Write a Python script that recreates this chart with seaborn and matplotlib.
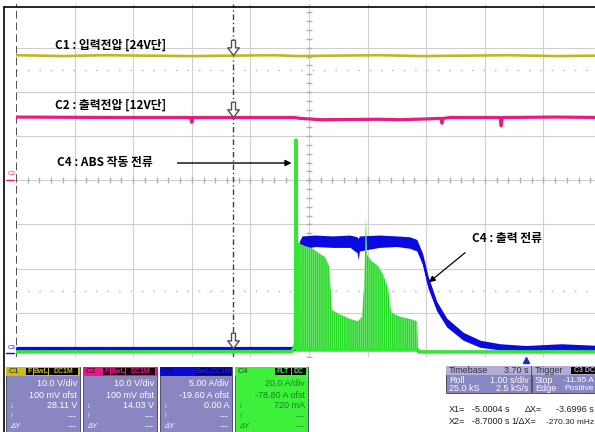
import numpy as np
import pandas as pd
import matplotlib
matplotlib.use("Agg")
import matplotlib.pyplot as plt
import seaborn as sns
from matplotlib.patches import Rectangle
from matplotlib.lines import Line2D

# ---- values (time in s, roll mode 1.00 s/div) ----
t_left, t_right = -8.7, 1.3
x1_cursor, x2_cursor = -5.0004, -8.7

# C1 : input voltage (V)
c1_t = [-8.7, -7.9, -7.2, -6.5, -5.7, -5.0, -4.3, -3.9, -3.3, -2.5, -1.8, -1.0, -0.3, 0.5, 1.3]
c1_v = [28.2, 28.0, 28.2, 28.1, 28.0, 28.1, 28.2, 28.0, 28.1, 28.2, 28.0, 28.1, 28.2, 28.0, 28.1]

# C2 : output voltage (V)
c2_t = [-8.7, -7.0, -5.72, -5.70, -5.68, -4.5, -3.95, -3.85, -3.5, -2.5, -2.15, -1.64,
        -1.45, -1.43, -1.41, -1.29, -0.44, -0.42, -0.40, 0.5, 1.3]
c2_v = [14.2, 14.1, 14.1, 13.0, 14.1, 14.1, 14.1, 13.9, 13.6, 13.7, 13.6, 13.8,
        13.9, 12.8, 13.9, 14.1, 14.1, 12.2, 14.1, 14.2, 14.1]

# C3 : output current (A), noise band low / high
c3_t = [-8.7, -3.95, -3.925, -3.905, -3.87, -3.82, -3.6, -3.3, -3.0, -2.88, -2.86, -2.84,
        -2.5, -2.2, -1.98, -1.86, -1.76, -1.67, -1.52, -1.35, -1.07, -0.78, -0.44, 0.0, 0.6, 1.3]
c3_hi = [0.8, 0.8, 2.5, 9.0, 12.6, 13.3, 13.4, 13.3, 13.4, 13.2, 13.0, 13.3,
         13.4, 13.3, 13.2, 12.9, 11.3, 8.8, 5.9, 4.0, 2.4, 1.5, 1.1, 0.9, 1.1, 0.9]
c3_lo = [0.3, 0.3, 0.4, 3.0, 9.5, 11.8, 12.1, 12.0, 12.0, 11.4, 10.6, 11.6,
         12.0, 12.1, 11.9, 11.6, 10.0, 7.4, 4.8, 3.0, 1.5, 0.7, 0.4, 0.3, 0.4, 0.3]

# C4 : ABS current (A), base trace with first spike
c4_t = [-8.7, -4.0, -3.96, -3.93, -3.922, -3.912, -3.90, -1.84, -1.83, 1.3]
c4_a = [1.1, 1.2, 2.5, 5.0, 97.0, 30.0, 2.0, 2.0, 1.1, 1.1]
# C4 PWM envelope (A)
c4_env_t = [-3.905, -3.854, -3.768, -3.649, -3.546, -3.427, -3.359, -3.307, -3.171, -3.0,
            -2.864, -2.795, -2.761, -2.727, -2.71, -2.625, -2.522, -2.437, -2.352, -2.3,
            -2.147, -1.976, -1.857, -1.84]
c4_env_hi = [51, 50, 49, 48, 46, 44, 40, 20, 18, 16,
             15, 17, 30, 62, 45, 42, 40, 36, 30, 19,
             17, 16, 15, 2]
c4_env_lo = [2] * len(c4_env_t)

# channel scale (unit/div) and offset
scale = {"C1": 10.0, "C2": 10.0, "C3": 5.0, "C4": 20.0}
ofst = {"C1": 0.1, "C2": 0.1, "C3": -19.6, "C4": -78.8}
colors = {"C1": "#c2b623", "C2": "#e61c82", "C3": "#0a0ae0", "C4": "#33e633"}


def div(ch, v):
    return (np.asarray(v, dtype=float) + ofst[ch]) / scale[ch]


W, H = 595, 432


def fx(px):
    return px / W


def fy(py):
    return 1 - py / H


sns.set_style("white")
plt.rcParams["font.family"] = ["Noto Sans CJK KR", "DejaVu Sans"]
plt.rcParams["hatch.linewidth"] = 1.0
box_font = ["Liberation Sans Narrow", "Liberation Sans", "DejaVu Sans"]

fig = plt.figure(figsize=(W / 100, H / 100), dpi=100)
ax = fig.add_axes([fx(16), fy(357), (602 - 16) / W, 353.5 / H])
ax.set_xlim(t_left, t_right)
ax.set_ylim(-4, 4)
ax.axis("off")

# grid
for k in range(1, 11):
    ax.axvline(t_left + k, color="#cfcfcf", lw=0.8, zorder=0)
for d in range(-3, 4):
    ax.axhline(d, color="#cfcfcf", lw=0.8, zorder=0)
for d in (2.5, -2.5):
    ax.axhline(d, color="#bdbdbd", lw=1, ls=(0, (1.2, 7)), zorder=0)
tick_t = np.arange(t_left, t_right + 0.01, 0.2)
ax.plot(tick_t, np.zeros_like(tick_t), ls="none", marker="|", ms=4, color="#b0b0b0", zorder=0)
tick_d = np.arange(-4, 4.01, 0.2)
ax.plot(np.full_like(tick_d, -3.7), tick_d, ls="none", marker="_", ms=4, color="#b0b0b0", zorder=0)

# cursors
ax.axvline(x2_cursor, color="#505050", lw=1.4, ls=(0, (4, 2)), zorder=1)
ax.axvline(x1_cursor, color="#404040", lw=1, ls=(0, (4, 2, 1, 2)), zorder=1)

# traces
df1 = pd.DataFrame({"t": c1_t, "div": div("C1", c1_v)})
df2 = pd.DataFrame({"t": c2_t, "div": div("C2", c2_v)})
df3 = pd.DataFrame({"t": c3_t, "div": div("C3", (np.array(c3_hi) + np.array(c3_lo)) / 2)})
df4 = pd.DataFrame({"t": c4_t, "div": div("C4", c4_a)})

sns.lineplot(data=df1, x="t", y="div", color=colors["C1"], lw=1.9, estimator=None, sort=False, ax=ax, zorder=3)
sns.lineplot(data=df2, x="t", y="div", color=colors["C2"], lw=2.3, estimator=None, sort=False, ax=ax, zorder=3)

ax.fill_between(c3_t, div("C3", c3_lo), div("C3", c3_hi), color=colors["C3"], lw=0, zorder=3)
sns.lineplot(data=df3, x="t", y="div", color=colors["C3"], lw=1.3, estimator=None, sort=False, ax=ax, zorder=3)

ax.fill_between(c4_env_t, div("C4", c4_env_lo), div("C4", c4_env_hi), facecolor="#8aee8a",
                edgecolor="#22d822", hatch="||||||||", lw=0, zorder=4)
sns.lineplot(data=df4, x="t", y="div", color=colors["C4"], lw=2.6, estimator=None, sort=False, ax=ax, zorder=5)

# hollow cursor arrows
arrow = [(-0.13, 1), (0.13, 1), (0.13, 0.5), (0.38, 0.5), (0, 0), (-0.38, 0.5), (-0.13, 0.5), (-0.13, 1)]
for yv in (div("C1", 28.1) + 0.02, div("C2", 14.1) + 0.02, div("C3", 0.5) + 0.03):
    ax.plot([x1_cursor], [yv], marker=arrow, ms=22, mfc="white", mec="#505050", mew=1,
            ls="none", zorder=6)

# trigger marker
ax.plot([0], [-4.07], marker="^", ms=4, color="#1a2ad8", clip_on=False, zorder=6)

# annotations
lab = dict(fontsize=8.5, fontweight="bold", color="black", va="center", ha="left")
ax.text(-8.03, 3.06, "C1 : 입력전압 [24V단]", **lab)
ax.text(-8.03, 1.70, "C2 : 출력전압 [12V단]", **lab)
ax.text(-8.0, 0.41, "C4 : ABS 작동 전류", **lab)
ax.text(-0.92, -1.31, "C4 : 출력 전류", **lab)
ax.annotate("", xy=(-3.95, 0.39), xytext=(-5.99, 0.39),
            arrowprops=dict(arrowstyle="-|>", color="black", lw=1, mutation_scale=9), zorder=7)
ax.annotate("", xy=(-1.69, -2.35), xytext=(-1.0, -1.6),
            arrowprops=dict(arrowstyle="-|>", color="black", lw=0.9, mutation_scale=9), zorder=7)

# channel ground markers on the left
fig.text(fx(8), fy(175), "C2", color=colors["C2"], fontsize=4.5, family=box_font)
fig.add_artist(Line2D([fx(6), fx(14)], [fy(180), fy(180)], color=colors["C2"], lw=1))
fig.text(fx(8), fy(349), "C3", color=colors["C3"], fontsize=4.5, family=box_font)
fig.add_artist(Line2D([fx(6), fx(14)], [fy(353), fy(353)], color=colors["C3"], lw=1))

# screen frame
fig.add_artist(Line2D([fx(4), fx(595)], [fy(7), fy(7)], color="black", lw=1.2))
fig.add_artist(Line2D([fx(4), fx(4)], [fy(7), fy(432)], color="black", lw=1.2))

# ---- channel readout boxes ----
row_y = [384, 395, 406, 417, 427]


def rect(x0, y0, x1, y1, **kw):
    fig.add_artist(Rectangle((fx(x0), fy(y1)), (x1 - x0) / W, (y1 - y0) / H,
                             transform=fig.transFigure, **kw))


def chan_box(x0, x1, head, body, name, name_col, badges, badge_bg, badge_fg, rows, row_col):
    rect(x0, 367, x1, 434, fc=body, ec="#50506a", lw=0.7)
    rect(x0, 367, x1, 376, fc=head, ec="none")
    fig.text(fx(x0 + 3), fy(371.5), name, color=name_col, fontsize=6, va="center", family=box_font)
    for txt, b0, b1 in badges:
        rect(x0 + b0, 368, x0 + b1, 375, fc=badge_bg, ec="none")
        fig.text(fx(x0 + (b0 + b1) / 2), fy(371.5), txt, color=badge_fg, fontsize=5,
                 ha="center", va="center", family=box_font, fontweight="bold")
    for yy, txt in zip(row_y, rows):
        fig.text(fx(x1 - 3), fy(yy), txt, color=row_col, fontsize=6.5, ha="right", va="center",
                 family=box_font)
    for yy, sym in zip(row_y[2:], ["↓", "↑", "ΔY"]):
        fig.text(fx(x0 + 4), fy(yy), sym, color=row_col, fontsize=5.5, ha="left", va="center",
                 family=box_font, style="italic")


body = "#8a86c2"
std_badges = [("F", 20, 27), ("BwL", 28, 42), ("DC1M", 43, 72)]
chan_box(6, 80, "#c9bb1c", body, "C1", "#2a2a00", std_badges, "black", "#c9bb1c",
         ["10.0 V/div", "100 mV ofst", "28.11 V", "---", "---"], "white")
chan_box(83, 157, "#e8168c", body, "C2", "#4a0020", std_badges, "#1a0008", "#e8168c",
         ["10.0 V/div", "100 mV ofst", "14.03 V", "---", "---"], "white")
chan_box(160, 232, "#0a0ad2", body, "C3", "#000070", [("BwL", 36, 50), ("DC1M", 51, 71)],
         "#00005a", "#1a1aff", ["5.00 A/div", "-19.60 A ofst", "0.00 A", "---", "---"], "white")
chan_box(235, 308, "#3cf03c", "#3cf03c", "C4", "#145214", [("FLT", 40, 56), ("DC", 57, 71)],
         "black", "#3cf03c", ["20.0 A/div", "-78.80 A ofst", "720 mA", "---", "---"], "#1f7f1f")

# timebase / trigger boxes
for x0, x1 in ((446, 531), (532, 610)):
    rect(x0, 366, x1, 393, fc=body, ec="#50506a", lw=0.7)
    rect(x0, 366, x1, 375, fc="#b2aed6", ec="none")
tb = dict(fontsize=6.5, va="center", family=box_font)
fig.text(fx(449), fy(370.5), "Timebase", color="#303040", ha="left", **tb)
fig.text(fx(529), fy(370.5), "3.70 s", color="#303040", ha="right", **tb)
fig.text(fx(449), fy(380.5), "Roll", color="white", ha="left", **tb)
fig.text(fx(529), fy(380.5), "1.00 s/div", color="white", ha="right", **tb)
fig.text(fx(449), fy(388.5), "25.0 kS", color="white", ha="left", **tb)
fig.text(fx(529), fy(388.5), "2.5 kS/s", color="white", ha="right", **tb)
fig.text(fx(535), fy(370.5), "Trigger", color="#303040", ha="left", **tb)
rect(571, 367, 600, 374, fc="black", ec="none")
fig.text(fx(574), fy(370.5), "C3 DC", color="#b2aed6", ha="left", fontsize=5, va="center",
         family=box_font, fontweight="bold")
tb_small = dict(tb, fontsize=6)
fig.text(fx(535), fy(380.5), "Stop", color="white", ha="left", **tb)
fig.text(fx(594), fy(380.5), "-11.95 A", color="white", ha="right", **tb_small)
fig.text(fx(535), fy(388.5), "Edge", color="white", ha="left", **tb)
fig.text(fx(594), fy(388.5), "Positive", color="white", ha="right", **tb_small)

# cursor readout
cr = dict(fontsize=6.5, va="center", color="#202020", family=box_font)
fig.text(fx(449), fy(410), "X1=", ha="left", **cr)
fig.text(fx(509), fy(410), "-5.0004 s", ha="right", **cr)
fig.text(fx(525), fy(410), "ΔX=", ha="left", **cr)
fig.text(fx(594), fy(410), "-3.6996 s", ha="right", **cr)
fig.text(fx(449), fy(422), "X2=", ha="left", **cr)
fig.text(fx(509), fy(422), "-8.7000 s", ha="right", **cr)
fig.text(fx(511), fy(422), "1/ΔX=", ha="left", **cr)
fig.text(fx(594), fy(422), "-270.30 mHz", ha="right", **dict(cr, fontsize=6))

fig.savefig("out.png", dpi=100)
